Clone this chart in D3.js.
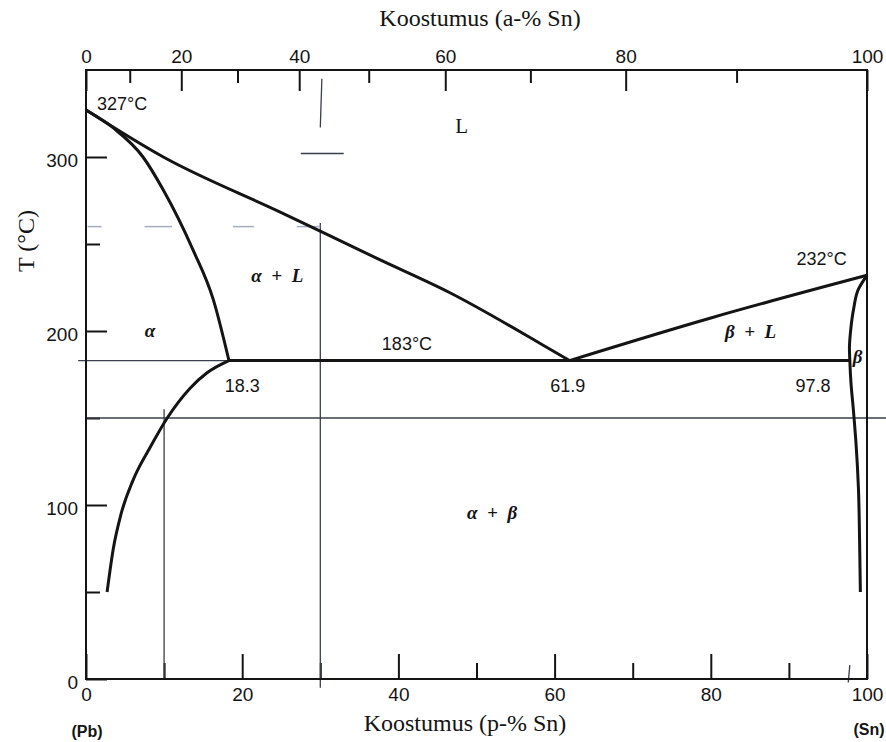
<!DOCTYPE html>
<html>
<head>
<meta charset="utf-8">
<script src="https://cdn.jsdelivr.net/npm/d3@7"></script>
<style>
  body { margin: 0; background: #fff; }
  svg { display: block; }
  .sans { font-family: "Liberation Sans", Arial, sans-serif; }
  .serif { font-family: "Liberation Serif", "Times New Roman", serif; }
</style>
</head>
<body>
<svg id="chart" width="886" height="742"></svg>
<script>
// Pb-Sn phase diagram, composition in wt-% Sn, temperature in degC

var wtMajor = [0, 20, 40, 60, 80, 100];
var wtMinor = [10, 30, 50, 70, 90];
var atomicLabels = [0, 10, 20, 30, 40, 50, 60, 70, 80, 90, 100];
// where each a-% tick sits on the wt-% scale
var atomicAsWt = [0, 5.6, 12.2, 19.4, 27.3, 36.2, 46.0, 56.9, 69.1, 83.3, 100];
var tempMajor = [0, 100, 200, 300];
var tempMinor = [50, 150, 250];

// boundaries, each ordered so the curve is monotone along one axis
var liquidusPb = [[0, 327], [9.9, 300], [24.8, 268.5], [37.6, 241], [46.6, 222],
  [58.1, 193], [61.9, 183]];
var solidusAlpha = [[0, 327], [3.5, 316.7], [7.3, 300], [9.9, 281], [13.7, 246.6],
  [16.3, 218], [18.3, 183]];
var solvusAlpha = [[2.7, 50], [3.5, 75], [4.5, 95], [6, 114], [8.2, 133], [10.4, 150],
  [13.3, 167], [15.5, 176], [18.3, 183]];
var liquidusSn = [[61.9, 183], [80, 207.5], [100, 232]];
var solvusBeta = [[100, 232], [98.9, 224], [98.3, 213], [97.9, 200], [97.75, 190], [97.8, 183],
  [97.95, 170], [98.25, 155], [98.6, 135], [98.9, 110], [99.05, 80], [99.15, 50]];
var eutectic = [[18.3, 183], [97.8, 183]];

// pencil marks on the scanned sheet
var guideLines = [
  [[30, -5], [30, 262]],
  [[10, 0], [10, 155]],
  [[0, 150], [102.5, 150]],
  [[-1, 183], [18.3, 183]],
  [[30, 317], [30.2, 345]],
  [[27.5, 302], [33, 302]],
  [[97.6, -2], [97.8, 8]]
];
var faintMarks = [
  [[0.2, 260], [2, 260]],
  [[7.5, 260], [11, 260]],
  [[18.8, 260], [21.5, 260]],
  [[27, 260], [30, 260]]
];

var svg = d3.select('#chart');
var ink = '#141414';

var x = d3.scaleLinear().domain([0, 100]).range([86, 867]);
var y = d3.scaleLinear().domain([0, 350]).range([679, 70]);

function translate(tx, ty) {
  return 'translate(' + (tx || 0) + ', ' + (ty || 0) + ')';
}

function styleAxis(g, size) {
  g.select('.domain').remove();
  g.selectAll('line').attr('stroke', ink).attr('stroke-width', 2);
  g.selectAll('text')
    .attr('class', 'sans')
    .attr('font-family', null)
    .attr('font-size', size)
    .attr('fill', ink);
}

// bottom axis (wt-%)
svg.append('g').attr('transform', translate(0, y(0)))
  .call(d3.axisBottom(x).tickValues(wtMajor).tickSize(-25).tickPadding(9).tickFormat(d3.format('d')))
  .call(styleAxis, 19);
svg.append('g').attr('transform', translate(0, y(0)))
  .call(d3.axisBottom(x).tickValues(wtMinor).tickSize(-16).tickFormat(''))
  .call(styleAxis, 19);

// top axis (a-%)
svg.append('g').attr('transform', translate(0, y(350)))
  .call(d3.axisTop(x)
    .tickValues(atomicAsWt)
    .tickSize(0)
    .tickPadding(7)
    .tickFormat(function(d, i) { return atomicLabels[i] % 20 === 0 ? atomicLabels[i] : ''; }))
  .call(styleAxis, 19)
  .selectAll('.tick line')
  .attr('y2', function(d, i) { return atomicLabels[i] % 20 === 0 ? 21 : 13; });

// left axis (temperature)
svg.append('g').attr('transform', translate(x(0), 0))
  .call(d3.axisLeft(y).tickValues(tempMajor).tickSize(-21).tickPadding(8))
  .call(styleAxis, 19)
  .selectAll('text').attr('dy', '0.5em');
svg.append('g').attr('transform', translate(x(0), 0))
  .call(d3.axisLeft(y).tickValues(tempMinor).tickSize(-14).tickFormat(''))
  .call(styleAxis, 19);

// pencil guide lines
var line = d3.line().x(function(d) { return x(d[0]); }).y(function(d) { return y(d[1]); });

svg.append('g').selectAll('path').data(guideLines).enter().append('path')
  .attr('d', line)
  .attr('fill', 'none')
  .attr('stroke', '#3a3e4c')
  .attr('stroke-width', 1.3);
svg.append('g').selectAll('path').data(faintMarks).enter().append('path')
  .attr('d', line)
  .attr('fill', 'none')
  .attr('stroke', '#a3abbd')
  .attr('stroke-width', 1.5);

// frame
svg.append('rect')
  .attr('x', x(0)).attr('y', y(350))
  .attr('width', x(100) - x(0)).attr('height', y(0) - y(350))
  .attr('fill', 'none').attr('stroke', ink).attr('stroke-width', 2);

// phase boundaries
function boundary(data, curveType) {
  svg.append('path')
    .datum(data)
    .attr('d', d3.line()
      .x(function(d) { return x(d[0]); })
      .y(function(d) { return y(d[1]); })
      .curve(curveType))
    .attr('fill', 'none')
    .attr('stroke', ink)
    .attr('stroke-width', 3)
    .attr('stroke-linejoin', 'round');
}

boundary(liquidusPb, d3.curveMonotoneX);
boundary(solidusAlpha, d3.curveMonotoneX);
boundary(solvusAlpha, d3.curveMonotoneX);
boundary(liquidusSn, d3.curveMonotoneX);
boundary(solvusBeta, d3.curveMonotoneY);
boundary(eutectic, d3.curveLinear);

// labels
function label(text, px, t, opts) {
  opts = opts || {};
  svg.append('text')
    .attr('class', opts.serif ? 'serif' : 'sans')
    .attr('x', x(px)).attr('y', y(t))
    .attr('text-anchor', opts.anchor || 'middle')
    .attr('font-size', opts.size || 18)
    .attr('font-style', opts.italic ? 'italic' : null)
    .attr('font-weight', opts.bold ? 'bold' : null)
    .attr('fill', ink)
    .style('white-space', 'pre')
    .text(text);
}

label('327°C', 1.4, 327, {anchor: 'start'});
label('L', 48.1, 313.8, {serif: true, size: 21});
label('α  +  L', 24.5, 228, {serif: true, italic: true, bold: true, size: 19});
label('α', 8.2, 196.5, {serif: true, italic: true, bold: true, size: 19});
label('183°C', 41.1, 189);
label('18.3', 20, 165);
label('61.9', 61.7, 165);
label('97.8', 93.1, 165);
label('232°C', 94.2, 238);
label('β  +  L', 85.1, 196, {serif: true, italic: true, bold: true, size: 19});
label('β', 98.8, 181.6, {serif: true, italic: true, bold: true, size: 19});
label('α  +  β', 52, 92, {serif: true, italic: true, bold: true, size: 19});

// axis titles
svg.append('text').attr('class', 'serif')
  .attr('x', 480).attr('y', 26)
  .attr('text-anchor', 'middle').attr('font-size', 24).attr('fill', ink)
  .text('Koostumus (a-% Sn)');
svg.append('text').attr('class', 'serif')
  .attr('x', 465).attr('y', 731)
  .attr('text-anchor', 'middle').attr('font-size', 24).attr('fill', ink)
  .text('Koostumus (p-% Sn)');
svg.append('text').attr('class', 'serif')
  .attr('transform', translate(34, 241) + ' rotate(-90)')
  .attr('text-anchor', 'middle').attr('font-size', 24).attr('fill', ink)
  .text('T (°C)');
svg.append('text').attr('class', 'sans')
  .attr('x', 87).attr('y', 737)
  .attr('text-anchor', 'middle').attr('font-size', 16).attr('font-weight', 'bold').attr('fill', ink)
  .text('(Pb)');
svg.append('text').attr('class', 'sans')
  .attr('x', 869).attr('y', 735)
  .attr('text-anchor', 'middle').attr('font-size', 16).attr('font-weight', 'bold').attr('fill', ink)
  .text('(Sn)');
</script>
</body>
</html>
